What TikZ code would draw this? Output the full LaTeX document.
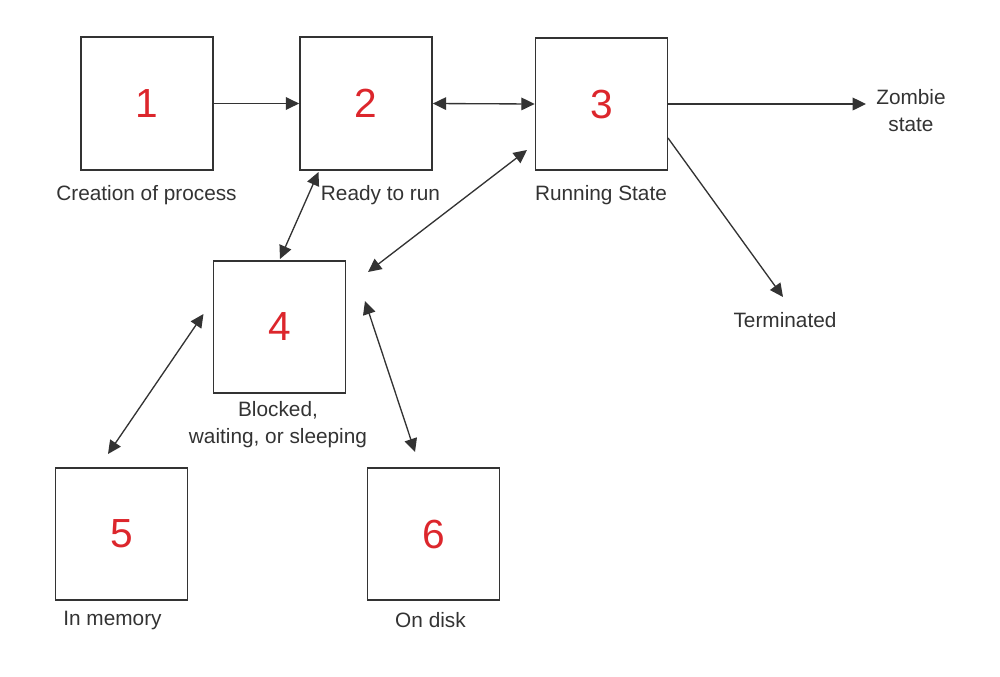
\documentclass[tikz,border=0pt]{standalone}
\usepackage{fontspec}
\setmainfont{Liberation Sans}
\usetikzlibrary{arrows.meta}
\definecolor{ink}{RGB}{51,51,51}
\definecolor{numred}{RGB}{220,38,44}
\tikzset{
  statebox/.style={draw=ink, line width=1.3pt, minimum width=99pt, minimum height=99.5pt, inner sep=0pt,
    text=numred, font=\fontsize{30.5}{32}\selectfont},
  lbl/.style={text=ink, font=\fontsize{15.6}{20.3}\selectfont, inner sep=0pt, align=center},
  tip/.style={Triangle[length=10pt,width=9.5pt]},
  conn/.style={draw=ink, line width=1pt, -{Triangle[length=10pt,width=9.5pt]}},
  biconn/.style={draw=ink, line width=1pt, {Triangle[length=10pt,width=9.5pt]}-{Triangle[length=10pt,width=9.5pt]}}
}
\begin{document}
\begin{tikzpicture}[x=0.75pt,y=-0.75pt]
\useasboundingbox (0,0) rectangle (1000,676);
% boxes
\node[statebox] (b1) at (147,103.5) {1};
\node[statebox] (b2) at (366,103.5) {2};
\node[statebox] (b3) at (601.5,104) {3};
\node[statebox] (b4) at (279.5,327) {4};
\node[statebox] (b5) at (121.5,534) {5};
\node[statebox] (b6) at (433.5,534) {6};
% labels
\node[lbl] (l1) at (146.5,195) {Creation of process};
\node[lbl] (l2) at (380.5,195) {Ready to run};
\node[lbl] (l3) at (601,195.5) {Running State};
\node[lbl] (l4) at (278,424.5) {Blocked,\\waiting, or sleeping};
\node[lbl] (l5) at (112.5,620) {In memory};
\node[lbl] (l6) at (430.5,620) {On disk};
\node[lbl] (lz) at (911,111) {Zombie\\state};
\node[lbl] (lt) at (785,320) {Terminated};
% free connector ends
\coordinate (z) at (866,104);
\coordinate (t0) at (668,138);
\coordinate (t1) at (783,297);
\coordinate (a24) at (318.5,172);
\coordinate (b24) at (280,259);
\coordinate (a34) at (527,150);
\coordinate (b34) at (368,272);
\coordinate (a45) at (203.5,314);
\coordinate (b45) at (108,454);
\coordinate (a46) at (365,301);
\coordinate (b46) at (415,452);
% connectors
\draw[conn] (b1.east) -- (b2.west);
\draw[biconn] (b2.east) -- (b3.west);
\draw[conn] (b3.east) -- (z);
\draw[conn] (t0) -- (t1);
\draw[biconn] (a24) -- (b24);
\draw[biconn] (a34) -- (b34);
\draw[biconn] (a45) -- (b45);
\draw[biconn] (a46) -- (b46);
\end{tikzpicture}
\end{document}
